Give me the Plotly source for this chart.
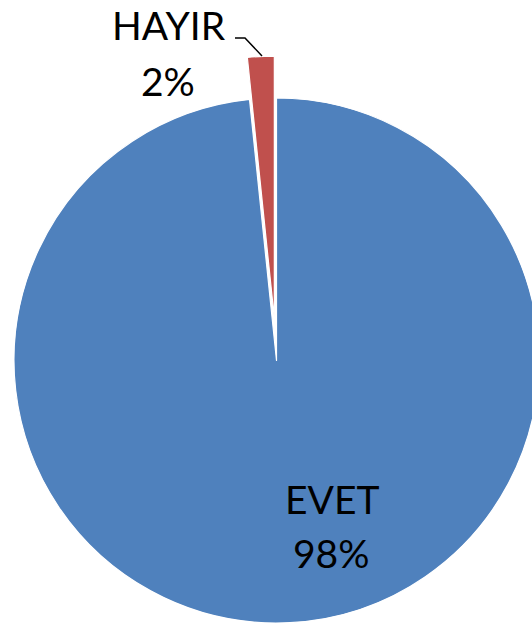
import math
import plotly.graph_objects as go

labels = ["EVET", "HAYIR"]
values = [60, 1]
colors = ["#4F81BD", "#C0504D"]
pct_text = ["98%", "2%"]

W, H = 540, 624
CX, CY, R = 276.5, 360.5, 262.5   # pie centre / radius in px
PULL_PX = 42

total = sum(values)
# bisector angle of the HAYIR slice (clockwise from top, starting after EVET)
start = 360 * values[0] / total
mid = math.radians(start + 360 * values[1] / total / 2)
dx = PULL_PX * math.sin(mid)
dy = -PULL_PX * math.cos(mid)


def dom(cx, cy):
    return dict(x=[(cx - R) / W, (cx + R) / W],
                y=[1 - (cy + R) / H, 1 - (cy - R) / H])


clear = "rgba(0,0,0,0)"
fig = go.Figure()
fig.add_trace(go.Pie(
    labels=labels, values=values, sort=False, direction="clockwise", rotation=0,
    marker=dict(colors=[colors[0], clear], line=dict(color=["white", clear], width=1.2)),
    textinfo="none", hoverinfo="label+percent", showlegend=False,
    domain=dom(CX, CY),
))
fig.add_trace(go.Pie(
    labels=labels, values=values, sort=False, direction="clockwise", rotation=0,
    marker=dict(colors=[clear, colors[1]], line=dict(color=[clear, "white"], width=1.2)),
    textinfo="none", hoverinfo="label+percent", showlegend=False,
    domain=dom(CX + dx, CY + dy),
))

FONT = dict(family="Lato, 'Open Sans', sans-serif", size=39, color="black")


def ann(text, px, py):
    fig.add_annotation(text=text, x=px / W, y=1 - py / H, xref="paper", yref="paper",
                       showarrow=False, font=FONT, xanchor="center", yanchor="middle")


ann(labels[1], 168.5, 25)
ann(pct_text[1], 168, 81)
ann(labels[0], 332, 499)
ann(pct_text[0], 331, 553)

fig.add_shape(type="path", path="M {} {} L {} {} L {} {}".format(
    235 / W, 1 - 38 / H, 245 / W, 1 - 38 / H, 262 / W, 1 - 56 / H),
    xref="paper", yref="paper", line=dict(color="black", width=1.5))

fig.update_layout(width=W, height=H, margin=dict(l=0, r=0, t=0, b=0),
                  paper_bgcolor="white", plot_bgcolor="white")
fig.write_html(
    "out.html",
    config={"displayModeBar": False},
    post_script=("document.body.style.margin='0';"
                 "document.body.style.overflow='hidden';"
                 "document.documentElement.style.overflow='hidden';"),
)
